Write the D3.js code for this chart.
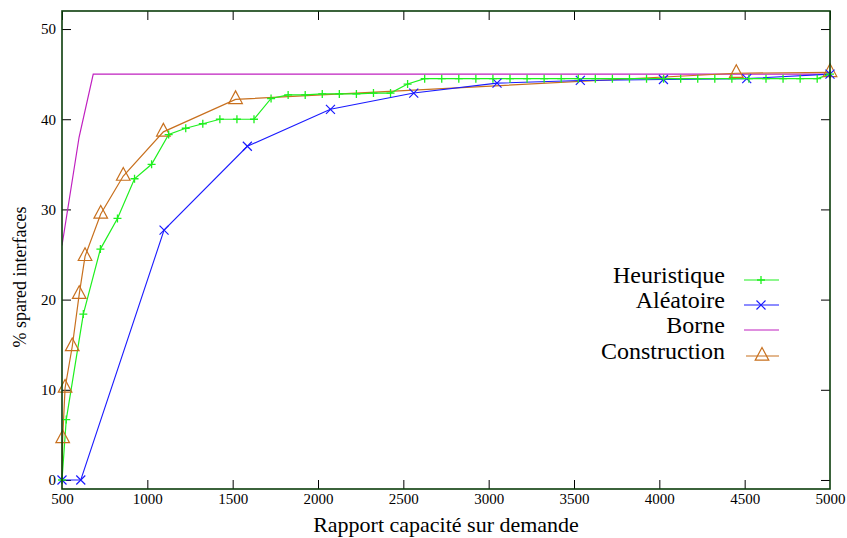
<!DOCTYPE html>
<html><head><meta charset="utf-8">
<script src="https://cdn.jsdelivr.net/npm/d3@7"></script>
<style>body{margin:0;background:#fff}svg{display:block}text{font-family:"Liberation Serif","DejaVu Serif",serif;fill:#000}</style>
</head><body><svg id="c" width="847" height="538"></svg>
<script>
const heurX = [500,525,625,725,825,925,1025,1125,1225,1325,1425,1525,1625,1725,1825,1925,2025,2125,2225,2325,2425,2525,2625,2725,2825,2925,3025,3125,3225,3325,3425,3525,3625,3725,3825,3925,4025,4125,4225,4325,4425,4525,4625,4725,4825,4925,5000];
const heurY = [0,6.7,18.4,25.6,29.0,33.4,35.0,38.3,39.0,39.5,40.0,40.0,40.0,42.3,42.7,42.7,42.8,42.8,42.8,42.9,42.9,43.9,44.5,44.5,44.5,44.5,44.5,44.5,44.5,44.5,44.5,44.5,44.5,44.5,44.5,44.5,44.5,44.5,44.5,44.5,44.5,44.5,44.5,44.5,44.5,44.5,45.0];
const aleaX = [500,610,1098,1586,2073,2561,3049,3537,4024,4512,5000];
const aleaY = [0,0,27.7,37.0,41.1,42.9,44.0,44.3,44.4,44.5,45.0];
const borneX = [500,600,683,5000];
const borneY = [26,38,45,45];
const consX = [500,504,518,560,601,635,727,859,1094,1517,4451,5000];
const consY = [0,4.6,10.2,14.8,20.6,24.8,29.5,33.7,38.6,42.2,45.1,45.2];
const xTicks = [500,1000,1500,2000,2500,3000,3500,4000,4500,5000];
const yTicks = [0,10,20,30,40,50];
const seriesNames = ["Heuristique","Aléatoire","Borne","Construction"];

const svg = d3.select("#c");
const L=62,R=830,T=11,B=489;
const x = d3.scaleLinear().domain([500,5000]).range([L,R]);
const y = d3.scaleLinear().domain([-1,52]).range([B,T]);

const colors = {h:"#1ef01e",a:"#1a1aff",b:"#c020c0",c:"#c8701e"};

const tk = 9;
const axB = svg.append("g").attr("transform",`translate(0,${B})`)
  .call(d3.axisBottom(x).tickValues(xTicks).tickSize(-tk).tickPadding(4).tickFormat(d3.format("d")));
const axT = svg.append("g").attr("transform",`translate(0,${T})`)
  .call(d3.axisTop(x).tickValues(xTicks).tickSize(-tk).tickFormat(""));
const axL = svg.append("g").attr("transform",`translate(${L},0)`)
  .call(d3.axisLeft(y).tickValues(yTicks).tickSize(-tk).tickPadding(6));
const axR = svg.append("g").attr("transform",`translate(${R},0)`)
  .call(d3.axisRight(y).tickValues(yTicks).tickSize(-tk).tickFormat(""));
[axB,axT,axL,axR].forEach(a=>{a.select(".domain").remove();a.selectAll(".tick line").attr("stroke","#000");a.selectAll("text").attr("font-size",15).attr("font-family","Liberation Serif");});
axB.selectAll(".tick").filter(d=>d===500||d===5000).select("line").remove();

svg.append("clipPath").attr("id","pc").append("rect").attr("x",L).attr("y",T).attr("width",R-L).attr("height",B-T);
const g = svg.append("g");

function zip(xs,ys){return xs.map((v,i)=>({x:v,y:ys[i]}));}
const line = d3.line().x(d=>x(d.x)).y(d=>y(d.y));

const borne = zip(borneX,borneY), heur = zip(heurX,heurY), alea = zip(aleaX,aleaY), cons = zip(consX,consY);

g.append("path").datum(borne).attr("d",line).attr("fill","none").attr("stroke",colors.b).attr("stroke-width",1.2).attr("clip-path","url(#pc)");
g.append("path").datum(cons).attr("d",line).attr("fill","none").attr("stroke",colors.c).attr("stroke-width",1.2);
g.append("path").datum(alea).attr("d",line).attr("fill","none").attr("stroke",colors.a).attr("stroke-width",1.1);
g.append("path").datum(heur).attr("d",line).attr("fill","none").attr("stroke",colors.h).attr("stroke-width",1.2);

function plus(sel,cx,cy,s,col){sel.append("path").attr("d",`M${cx-s},${cy}H${cx+s}M${cx},${cy-s}V${cy+s}`).attr("stroke",col).attr("stroke-width",1.3).attr("fill","none");}
function cross(sel,cx,cy,s,col){sel.append("path").attr("d",`M${cx-s},${cy-s}L${cx+s},${cy+s}M${cx-s},${cy+s}L${cx+s},${cy-s}`).attr("stroke",col).attr("stroke-width",1.2).attr("fill","none");}
function tri(sel,cx,cy,col){sel.append("path").attr("d",`M${cx},${cy-8.5}L${cx+6.8},${cy+4.2}L${cx-6.8},${cy+4.2}Z`).attr("stroke",col).attr("stroke-width",1.2).attr("fill","none");}

cons.slice(1).forEach(d=>tri(g,x(d.x),y(d.y),colors.c));
alea.forEach(d=>cross(g,x(d.x),y(d.y),4.5,colors.a));
heur.forEach(d=>plus(g,x(d.x),y(d.y),4,colors.h));

svg.append("rect").attr("x",L).attr("y",T).attr("width",R-L).attr("height",B-T).attr("fill","none").attr("stroke","#0b3d0b").attr("stroke-width",1.6);

const legY = [280,305,330,356];
const lg = svg.append("g");
seriesNames.forEach((n,i)=>{
  lg.append("text").attr("x",725).attr("y",legY[i]+3).attr("text-anchor","end").attr("font-size",24).text(n);
});
const lx1=744,lx2=779,lxm=761;
lg.append("line").attr("x1",lx1).attr("x2",lx2).attr("y1",legY[0]).attr("y2",legY[0]).attr("stroke",colors.h).attr("stroke-width",1.2);
plus(lg,lxm,legY[0],4,colors.h);
lg.append("line").attr("x1",lx1).attr("x2",lx2).attr("y1",legY[1]).attr("y2",legY[1]).attr("stroke",colors.a).attr("stroke-width",1.1);
cross(lg,lxm,legY[1],4.5,colors.a);
lg.append("line").attr("x1",lx1).attr("x2",lx2).attr("y1",legY[2]).attr("y2",legY[2]).attr("stroke",colors.b).attr("stroke-width",1.2);
lg.append("line").attr("x1",lx1+2).attr("x2",lx2).attr("y1",legY[3]).attr("y2",legY[3]).attr("stroke",colors.c).attr("stroke-width",1.2);
tri(lg,lxm+1,legY[3],colors.c);

svg.append("text").attr("x",(L+R)/2).attr("y",532).attr("text-anchor","middle").attr("font-size",22).text("Rapport capacité sur demande");
svg.append("text").attr("transform","translate(26,277) rotate(-90)").attr("text-anchor","middle").attr("font-size",18).text("% spared interfaces");
</script></body></html>
